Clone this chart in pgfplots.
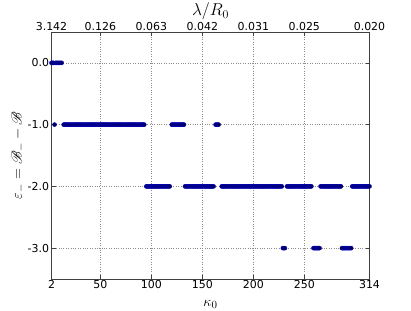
\documentclass[border=0pt]{standalone}
\usepackage{pgfplots}
\pgfplotsset{compat=1.18}
\usepackage{fontspec}
\usepackage{mathrsfs}
\setmainfont{DejaVu Sans}
\definecolor{mpnavy}{RGB}{0,0,100}
\definecolor{mpedge}{RGB}{0,0,190}
\begin{document}
\begin{tikzpicture}
\path[use as bounding box] (-51.5bp,-32bp) rectangle (359.5bp,279bp);
\pgfplotsset{
  common/.style={
    scale only axis, width=318bp, height=247bp,
    at={(0,0)}, anchor=south west,
    xmin=2, xmax=314, ymin=-3.5, ymax=0.5,
    axis line style={black!75, line width=0.9pt},
    tick style={black!75, line width=0.6pt},
    major tick length=4bp,
    tick align=inside,
    ticklabel style={font=\fontsize{11}{13}\selectfont},
    label style={font=\fontsize{15}{17}\selectfont},
  }
}
\begin{axis}[common,
  xtick={2,50,100,150,200,250,314},
  xticklabels={2,50,100,150,200,250,314},
  ytick={-3,-2,-1,0},
  yticklabels={-3.0,-2.0,-1.0,0.0},
  xtick pos=both, ytick pos=both,
  xticklabel pos=bottom,
  xmajorgrids, ymajorgrids,
  major grid style={dotted, black!45, line width=0.45pt},
  xticklabel style={yshift=2bp},
  yticklabel style={xshift=1bp},
  xlabel={$\kappa_0$},
  ylabel={$\varepsilon_- = \mathscr{B}_- - \mathscr{B}$},
  xlabel style={at={(axis description cs:0.5,-0.103)}, anchor=center},
  ylabel style={at={(axis description cs:-0.105,0.5)}, anchor=center, rotate=0},
  mark options={fill=mpnavy, draw=mpedge, line width=0.3pt},
]
% epsilon = 0
\addplot[only marks, mark=*, mark size=2.1bp] coordinates {
(2,0)(3,0)(4,0)(6,0)(7,0)(8,0)(9,0)(10,0)(11,0)(12,0)
};
% epsilon = -1
\addplot[only marks, mark=*, mark size=2.1bp] coordinates {
(5,-1)
(14,-1)(15,-1)(16,-1)(17,-1)(18,-1)(19,-1)(20,-1)(21,-1)(22,-1)(23,-1)
(24,-1)(25,-1)(26,-1)(27,-1)(28,-1)(29,-1)(30,-1)(31,-1)(32,-1)(33,-1)
(34,-1)(35,-1)(36,-1)(37,-1)(38,-1)(39,-1)(40,-1)(41,-1)(42,-1)(43,-1)
(44,-1)(45,-1)(46,-1)(47,-1)(48,-1)(49,-1)(50,-1)(51,-1)(52,-1)(53,-1)
(54,-1)(55,-1)(56,-1)(57,-1)(58,-1)(59,-1)(60,-1)(61,-1)(62,-1)(63,-1)
(64,-1)(65,-1)(66,-1)(67,-1)(68,-1)(69,-1)(70,-1)(71,-1)(72,-1)(73,-1)
(74,-1)(75,-1)(76,-1)(77,-1)(78,-1)(79,-1)(80,-1)(81,-1)(82,-1)(83,-1)
(84,-1)(85,-1)(86,-1)(87,-1)(88,-1)(89,-1)(90,-1)(91,-1)(92,-1)(93,-1)
(120,-1)(121,-1)(122,-1)(123,-1)(124,-1)(125,-1)(126,-1)(127,-1)(128,-1)
(129,-1)(130,-1)(131,-1)(132,-1)
(163,-1)(164,-1)(165,-1)(166,-1)
};
% epsilon = -2
\addplot[only marks, mark=*, mark size=2.1bp] coordinates {
(95,-2)(96,-2)(97,-2)(98,-2)(99,-2)(100,-2)(101,-2)(102,-2)(103,-2)(104,-2)
(105,-2)(106,-2)(107,-2)(108,-2)(109,-2)(110,-2)(111,-2)(112,-2)(113,-2)
(114,-2)(115,-2)(116,-2)(117,-2)(118,-2)
(133,-2)(134,-2)(135,-2)(136,-2)(137,-2)(138,-2)(139,-2)(140,-2)(141,-2)
(142,-2)(143,-2)(144,-2)(145,-2)(146,-2)(147,-2)(148,-2)(149,-2)(150,-2)
(151,-2)(152,-2)(153,-2)(154,-2)(155,-2)(156,-2)(157,-2)(158,-2)(159,-2)
(160,-2)(161,-2)
(169,-2)(170,-2)(171,-2)(172,-2)(173,-2)(174,-2)(175,-2)(176,-2)(177,-2)
(178,-2)(179,-2)(180,-2)(181,-2)(182,-2)(183,-2)(184,-2)(185,-2)(186,-2)
(187,-2)(188,-2)(189,-2)(190,-2)(191,-2)(192,-2)(193,-2)(194,-2)(195,-2)
(196,-2)(197,-2)(198,-2)(199,-2)(200,-2)(201,-2)(202,-2)(203,-2)(204,-2)
(205,-2)(206,-2)(207,-2)(208,-2)(209,-2)(210,-2)(211,-2)(212,-2)(213,-2)
(214,-2)(215,-2)(216,-2)(217,-2)(218,-2)(219,-2)(220,-2)(221,-2)(222,-2)
(223,-2)(224,-2)(225,-2)(226,-2)(227,-2)(228,-2)
(233,-2)(234,-2)(235,-2)(236,-2)(237,-2)(238,-2)(239,-2)(240,-2)(241,-2)
(242,-2)(243,-2)(244,-2)(245,-2)(246,-2)(247,-2)(248,-2)(249,-2)(250,-2)
(251,-2)(252,-2)(253,-2)(254,-2)(255,-2)(256,-2)(257,-2)
(266,-2)(267,-2)(268,-2)(269,-2)(270,-2)(271,-2)(272,-2)(273,-2)(274,-2)
(275,-2)(276,-2)(277,-2)(278,-2)(279,-2)(280,-2)(281,-2)(282,-2)(283,-2)
(284,-2)(285,-2)(286,-2)
(297,-2)(298,-2)(299,-2)(300,-2)(301,-2)(302,-2)(303,-2)(304,-2)(305,-2)
(306,-2)(307,-2)(308,-2)(309,-2)(310,-2)(311,-2)(312,-2)(313,-2)(314,-2)
};
% epsilon = -3
\addplot[only marks, mark=*, mark size=2.1bp] coordinates {
(229,-3)(230,-3)(231,-3)
(259,-3)(260,-3)(261,-3)(262,-3)(263,-3)(264,-3)(265,-3)
(287,-3)(288,-3)(289,-3)(290,-3)(291,-3)(292,-3)(293,-3)(294,-3)(295,-3)(296,-3)
};
\end{axis}
\begin{axis}[common,
  axis x line*=top, axis y line=none,
  xtick={2,50,100,150,200,250,314},
  xticklabels={3.142,0.126,0.063,0.042,0.031,0.025,0.020},
  xticklabel style={yshift=-2bp},
  xlabel={$\lambda/R_0$},
  xlabel style={at={(axis description cs:0.5,1.083)}, anchor=center, font=\fontsize{17}{19}\selectfont},
]
\addplot[draw=none] coordinates {(2,0)};
\end{axis}
\end{tikzpicture}
\end{document}
